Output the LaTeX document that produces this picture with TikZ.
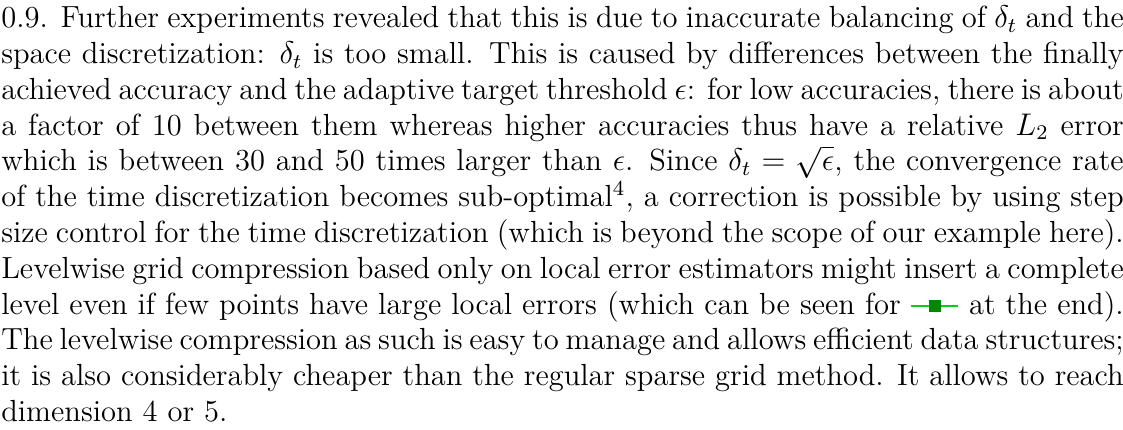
\documentclass[tikz,border=0pt]{standalone}
\usepackage{amsmath, amssymb}
\usepackage[dvipsnames]{xcolor}
\usepackage{tikz}

\definecolor{legline}{RGB}{20,200,20}
\definecolor{legsquare}{RGB}{0,135,0}
\newcommand{\legmark}{\tikz[baseline=-3.1pt]{%
  \draw[legline, line width=0.5pt] (0,0) -- (18pt,0);
  \fill[legsquare] (6.7pt,-2.4pt) rectangle (11.3pt,2.4pt);}}

\begin{document}
\begin{tikzpicture}[para/.style={anchor=base west, inner sep=0pt, text width=430pt,
    align=justify, font=\fontsize{11.7}{13.7}\selectfont}]
  \useasboundingbox (0,0) rectangle (430.2pt,-164.4pt);
  \node[para] (text) at (0.3pt,-10.7pt) {0.9. Further experiments revealed that this is due to inaccurate balancing of $\delta_t$ and the\linebreak
    space discretization: $\delta_t$ is too small. This is caused by differences between the finally\linebreak
    achieved accuracy and the adaptive target threshold $\epsilon$: for low accuracies, there is about\linebreak
    a factor of 10 between them whereas higher accuracies thus have a relative $L_2$ error\linebreak
    which is between 30 and 50 times larger than $\epsilon$. Since $\delta_t = \sqrt{\epsilon}$, the convergence rate\linebreak
    of the time discretization becomes sub-optimal\textsuperscript{4}, a correction is possible by using step\linebreak
    size control for the time discretization (which is beyond the scope of our example here).\linebreak
    Levelwise grid compression based only on local error estimators might insert a complete\linebreak
    level even if few points have large local errors (which can be seen for \legmark{} at the end).\linebreak
    The levelwise compression as such is easy to manage and allows efficient data structures;\linebreak
    it is also considerably cheaper than the regular sparse grid method. It allows to reach\linebreak
    dimension 4 or 5.\par};
\end{tikzpicture}
\end{document}
